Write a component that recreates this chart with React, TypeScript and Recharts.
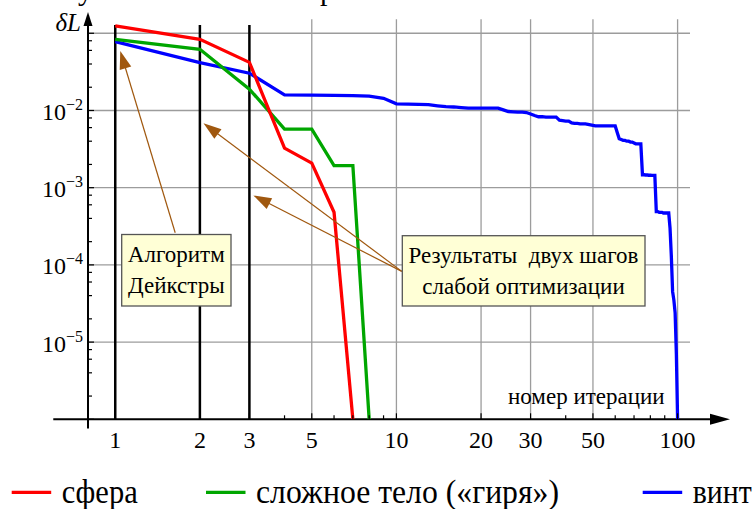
import { LineChart, Line, XAxis, YAxis, ReferenceLine } from "recharts";

const FONT = "Liberation Serif, DejaVu Serif, serif";

// iterations and dL values
const sphereIter = [1, 2, 3, 4, 5, 6, 7];
const sphereDL = [0.125, 0.0836, 0.042, 0.00325, 0.00208, 0.00048, 0.000001];

const dumbbellIter = [1, 2, 3, 4, 5, 6, 7, 8];
const dumbbellDL = [0.0836, 0.062, 0.0189, 0.00573, 0.00573, 0.00193, 0.00193, 0.000001];

const screwDL = [
  0.078, 0.0417, 0.0304, 0.0159, 0.0158, 0.0157, 0.0156, 0.0153, 0.0144, 0.0122,
  0.0121, 0.012, 0.0119, 0.0115, 0.0112, 0.0111, 0.0109, 0.0107, 0.0107, 0.0107,
  0.0107, 0.0107, 0.0107, 0.0102, 0.0097, 0.0096, 0.0095, 0.0095, 0.0094, 0.009,
  0.0086, 0.0083, 0.0083, 0.0082, 0.0082, 0.0082, 0.0082, 0.0075, 0.0074, 0.0073,
  0.0073, 0.0069, 0.0068, 0.0068, 0.0067, 0.0067, 0.0067, 0.0066, 0.0065, 0.0064,
  0.0063, 0.0063, 0.0063, 0.0063, 0.0063, 0.0063, 0.0063, 0.0063, 0.0063, 0.0063,
  0.0052, 0.0043, 0.0042, 0.0041, 0.0041, 0.004, 0.004, 0.0039, 0.0039, 0.0038,
  0.0037, 0.0037, 0.0037, 0.0037, 0.00147, 0.00147, 0.00146, 0.00146, 0.00145, 0.00145,
  0.00144, 0.00144, 0.00144, 0.00049, 0.00049, 0.00048, 0.00048, 0.00048, 0.00047, 0.00047,
  0.00047, 0.00047, 0.00047, 0.0003, 0.00013, 0.000045, 0.000035, 0.000024, 0.000007, 0.000001,
];

const xLabels = [1, 2, 3, 5, 10, 20, 30, 50, 100];
const xMinor = [4, 6, 7, 8, 9, 40, 60, 70, 80, 90];
const xGrid = [5, 10, 20, 30, 50, 100];
const xBlack = [1, 2, 3];
const yExps = [-6, -5, -4, -3, -2, -1];
const yLabelExps = [-5, -4, -3, -2];
const yMinorMant = [2, 4, 6, 8];

const X_DOMAIN = [0.8, 153.6];
const Y_DOMAIN = [1e-6, 0.1886];

const sphereData = sphereIter.map((n, i) => ({ n, v: sphereDL[i] }));
const dumbbellData = dumbbellIter.map((n, i) => ({ n, v: dumbbellDL[i] }));
const screwData = screwDL.map((v, i) => ({ n: i + 1, v }));

const xTicks = [...xLabels, ...xMinor].sort((a, b) => a - b);
const yTicks: number[] = [];
yExps.forEach(e => {
  yTicks.push(Math.pow(10, e));
  yMinorMant.forEach(m => {
    const v = m * Math.pow(10, e);
    if (v < Y_DOMAIN[1]) yTicks.push(v);
  });
});

// arrows: from box edge to the pointed spot (data coords)
const arrows = [
  { from: { x: 1.634, y: 2.61e-4 }, to: { x: 1.042, y: 0.059 } },
  { from: { x: 10.45, y: 8.24e-5 }, to: { x: 2.06, y: 6.85e-3 } },
  { from: { x: 10.45, y: 8.24e-5 }, to: { x: 3.1, y: 7.92e-4 } },
];

const legendItems = [
  { label: "сфера", color: "#ff0000", x: 11.7, w: 76 },
  { label: "сложное тело («гиря»)", color: "#00a600", x: 206, w: 303 },
  { label: "винт", color: "#0000ff", x: 642.7, w: 59 },
];

const txt = { fontFamily: FONT };

function XTick({ x, y, payload }: any) {
  const v = payload.value;
  const labeled = xLabels.includes(v);
  return (
    <g>
      <line x1={x} x2={x} y1={y} y2={y - (labeled ? 6 : 4)} stroke="#000" strokeWidth={1.2} />
      {labeled && (
        <text x={x} y={y + 28.7} textAnchor="middle" fontSize={24} style={txt} fill="#000">{v}</text>
      )}
    </g>
  );
}

function YTick({ x, y, payload }: any) {
  const v = payload.value;
  const e = Math.round(Math.log10(v));
  const major = Math.abs(v / Math.pow(10, e) - 1) < 1e-6;
  const labeled = major && yLabelExps.includes(e);
  return (
    <g>
      <line x1={x} x2={x + (major ? 6 : 4)} y1={y} y2={y} stroke="#000" strokeWidth={1.2} />
      {labeled && (
        <text x={x - 5} y={y + 9.5} textAnchor="end" fontSize={24} style={txt} fill="#000">
          10<tspan dy={-10} fontSize={16}>{"\u2212" + -e}</tspan>
        </text>
      )}
    </g>
  );
}

function Arrow({ x1, y1, x2, y2, color = "#a0580f", width = 1.2, len = 18, half = 6 }: any) {
  const dx = x2 - x1, dy = y2 - y1;
  const d = Math.sqrt(dx * dx + dy * dy) || 1;
  const ux = dx / d, uy = dy / d;
  const bx = x2 - ux * len, by = y2 - uy * len;
  const pts = `${x2},${y2} ${bx - uy * half},${by + ux * half} ${bx + uy * half},${by - ux * half}`;
  return (
    <g>
      <line x1={x1} y1={y1} x2={bx + ux * 2} y2={by + uy * 2} stroke={color} strokeWidth={width} />
      <polygon points={pts} fill={color} />
    </g>
  );
}

export default function App() {
  return (
    <div style={{ position: "absolute", left: 0, top: 0, width: 752, height: 509, background: "#fff", overflow: "hidden" }}>
      <div style={{ position: "absolute", left: 0, top: 0 }}>
        <LineChart width={752} height={460} margin={{ top: 12, right: 22, left: 0, bottom: 0 }}>
          <XAxis
            type="number" dataKey="n" scale="log" domain={X_DOMAIN} allowDataOverflow
            ticks={xTicks} interval={0} tickSize={0} tickMargin={0}
            axisLine={false} tickLine={false} tick={<XTick />} height={40.7}
          />
          <YAxis
            type="number" dataKey="v" scale="log" domain={Y_DOMAIN} allowDataOverflow
            ticks={yTicks} interval={0} tickSize={0} tickMargin={0}
            axisLine={false} tickLine={false} tick={<YTick />} width={88}
          />

          {/* grid */}
          {yExps.filter(e => e > -6).map(e => (
            <ReferenceLine key={"h" + e} ifOverflow="visible" stroke="#9c9c9c" strokeWidth={1.3}
              segment={[{ x: 0.8, y: Math.pow(10, e) }, { x: 110.7, y: Math.pow(10, e) }]} />
          ))}
          {xGrid.map(v => (
            <ReferenceLine key={"v" + v} ifOverflow="visible" stroke="#9c9c9c" strokeWidth={1.3}
              segment={[{ x: v, y: 1e-6 }, { x: v, y: 0.152 }]} />
          ))}
          {xBlack.map(v => (
            <ReferenceLine key={"b" + v} ifOverflow="visible" stroke="#000" strokeWidth={2.5}
              segment={[{ x: v, y: 1e-6 }, { x: v, y: 0.128 }]} />
          ))}

          {/* axes with arrows */}
          <ReferenceLine ifOverflow="visible"
            segment={[{ x: 0.602, y: 1e-6 }, { x: X_DOMAIN[1], y: 1e-6 }]}
            shape={(p: any) => <Arrow {...p} color="#000" width={2} len={20} half={5.5} />} />
          <ReferenceLine ifOverflow="visible"
            segment={[{ x: 0.8, y: 7.6e-7 }, { x: 0.8, y: Y_DOMAIN[1] }]}
            shape={(p: any) => <Arrow {...p} color="#000" width={2} len={14} half={4.5} />} />

          <Line data={screwData} dataKey="v" stroke="#0000ff" strokeWidth={3.3} dot={false} isAnimationActive={false} />
          <Line data={dumbbellData} dataKey="v" stroke="#00a600" strokeWidth={3.3} dot={false} isAnimationActive={false} />
          <Line data={sphereData} dataKey="v" stroke="#ff0000" strokeWidth={3.3} dot={false} isAnimationActive={false} />

          {arrows.map((a, i) => (
            <ReferenceLine key={"a" + i} ifOverflow="visible" segment={[a.from, a.to]}
              shape={(p: any) => <Arrow {...p} />} />
          ))}
        </LineChart>
      </div>

      <svg width={752} height={509} style={{ position: "absolute", left: 0, top: 0, pointerEvents: "none" }}>
        <g style={txt} fill="#000">
          {/* clipped caption remnants at top */}
          <text x={78} y={0} fontSize={30} style={txt}>у</text>
          <text x={320} y={0} fontSize={30} style={txt}>р</text>

          <text x={81} y={31} fontSize={25} fontStyle="italic" textAnchor="end" style={txt}>δL</text>
          <text x={508} y={404} fontSize={23} style={txt}>номер итерации</text>

          <rect x={121.7} y={234.5} width={109.3} height={71.5} fill="#ffffd6" stroke="#555" strokeWidth={1.3} />
          <text x={176.3} y={261.7} fontSize={23} textAnchor="middle" style={txt}>Алгоритм</text>
          <text x={176.3} y={293} fontSize={23} textAnchor="middle" style={txt}>Дейкстры</text>

          <rect x={402.3} y={235.7} width={242.7} height={70.3} fill="#ffffd6" stroke="#555" strokeWidth={1.3} />
          <text x={523.5} y={263} fontSize={23} textAnchor="middle" style={{ ...txt, whiteSpace: "pre" }}>Результаты  двух шагов</text>
          <text x={523.5} y={294} fontSize={23} textAnchor="middle" style={txt}>слабой оптимизации</text>

          {legendItems.map(it => (
            <g key={it.label}>
              <line x1={it.x} x2={it.x + 39.5} y1={492.3} y2={492.3} stroke={it.color} strokeWidth={3.3} />
              <text x={it.x + 50} y={503} fontSize={34} textLength={it.w} lengthAdjust="spacingAndGlyphs" style={txt}>{it.label}</text>
            </g>
          ))}
        </g>
      </svg>
    </div>
  );
}
